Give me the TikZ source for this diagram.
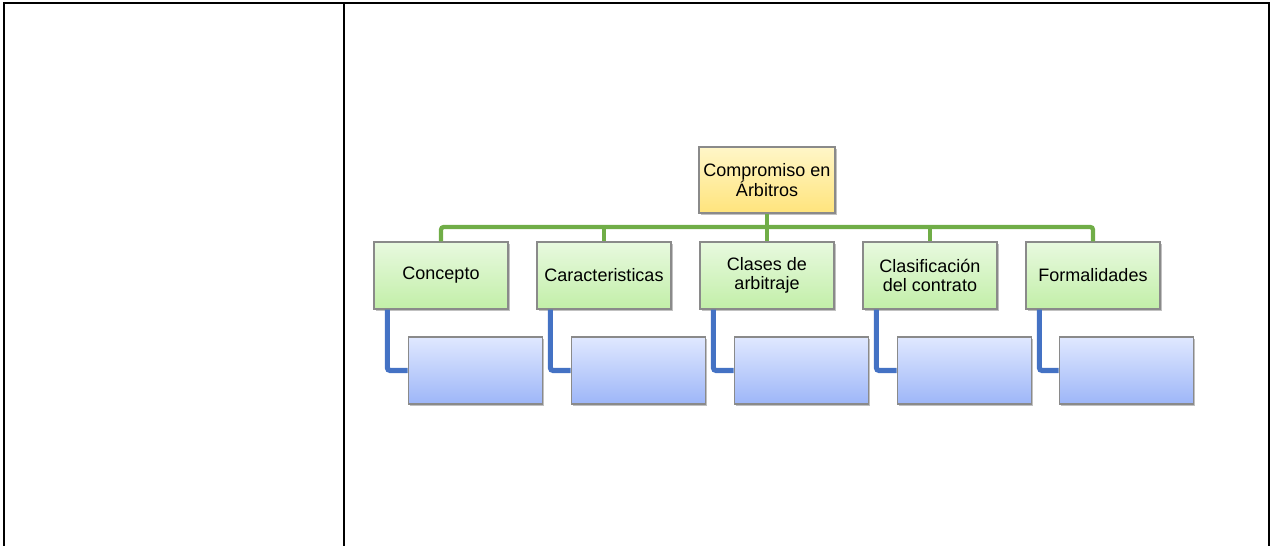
\documentclass[tikz,border=0pt]{standalone}
\usepackage{fontspec}
\setmainfont{Liberation Sans}
\usetikzlibrary{calc,shadows}
\definecolor{rootTop}{HTML}{FFF6C8}
\definecolor{rootBot}{HTML}{FFE47C}
\definecolor{grnTop}{HTML}{E8F9DF}
\definecolor{grnBot}{HTML}{C2EFA8}
\definecolor{bluTop}{HTML}{E0E8FF}
\definecolor{bluBot}{HTML}{9DB6F8}
\definecolor{grnLine}{HTML}{70AD47}
\definecolor{bluLine}{HTML}{4472C4}
\definecolor{boxBorder}{HTML}{8A8A8A}
\tikzset{
  px/.style={x=0.75pt,y=-0.75pt},
  basebox/.style={draw=boxBorder, line width=0.9pt, align=center, inner sep=1pt,
    font=\fontsize{13.5pt}{14.5pt}\selectfont,
    drop shadow={shadow xshift=1.2pt, shadow yshift=-1.5pt, opacity=0.35, fill=black!70}},
  rootbox/.style={basebox, top color=rootTop, bottom color=rootBot, minimum width=102pt, minimum height=49.5pt},
  lvlbox/.style={basebox, top color=grnTop, bottom color=grnBot, minimum width=100.5pt, minimum height=50.25pt},
  kidbox/.style={basebox, top color=bluTop, bottom color=bluBot, minimum width=101pt, minimum height=50.25pt},
  glink/.style={draw=grnLine, line width=3.2pt, rounded corners=2pt},
  blink/.style={draw=bluLine, line width=3.8pt, rounded corners=2pt},
  tabline/.style={draw=black, line width=1.6pt}
}
\begin{document}
\begin{tikzpicture}[px]
\useasboundingbox (0,0) rectangle (1271,546);
% table lines
\coordinate (tl) at (4,3);
\coordinate (tm) at (344,3);
\coordinate (tr) at (1269,3);
\coordinate (bl) at (4,548);
\coordinate (bm) at (344,548);
\coordinate (br) at (1269,548);
\draw[tabline] (bl) -- (tl) -- (tr) -- (br);
\draw[tabline] (tm) -- (bm);

% connectors first (under boxes)
\coordinate (bus) at (0,227);

% nodes
\node[rootbox] (root) at (767,180) {Compromiso en\\Árbitros};
\node[lvlbox] (c1) at (441,275.5) {Concepto};
\node[lvlbox] (c2) at (604,275.5) {Caracteristicas};
\node[lvlbox] (c3) at (767,275.5) {Clases de\\arbitraje};
\node[lvlbox] (c4) at (930,275.5) {Clasificación\\del contrato};
\node[lvlbox] (c5) at (1093,275.5) {Formalidades};
\node[kidbox] (k1) at (475.5,370.5) {};
\node[kidbox] (k2) at (638.5,370.5) {};
\node[kidbox] (k3) at (801.5,370.5) {};
\node[kidbox] (k4) at (964.5,370.5) {};
\node[kidbox] (k5) at (1126.5,370.5) {};

\begin{scope}[on background layer/.style={}]
\draw[glink] (root.south) -- (root.south |- bus);
\draw[glink] (c1.north) -- (c1.north |- bus) -- (c5.north |- bus) -- (c5.north);
\foreach \i in {2,3,4}{
  \draw[glink] (c\i.north |- bus) -- (c\i.north);
}
\foreach \i in {1,...,5}{
  \draw[blink] ($(c\i.south west)+(10.5pt,0)$) |- (k\i.west);
}
\end{scope}
\end{tikzpicture}
\end{document}
